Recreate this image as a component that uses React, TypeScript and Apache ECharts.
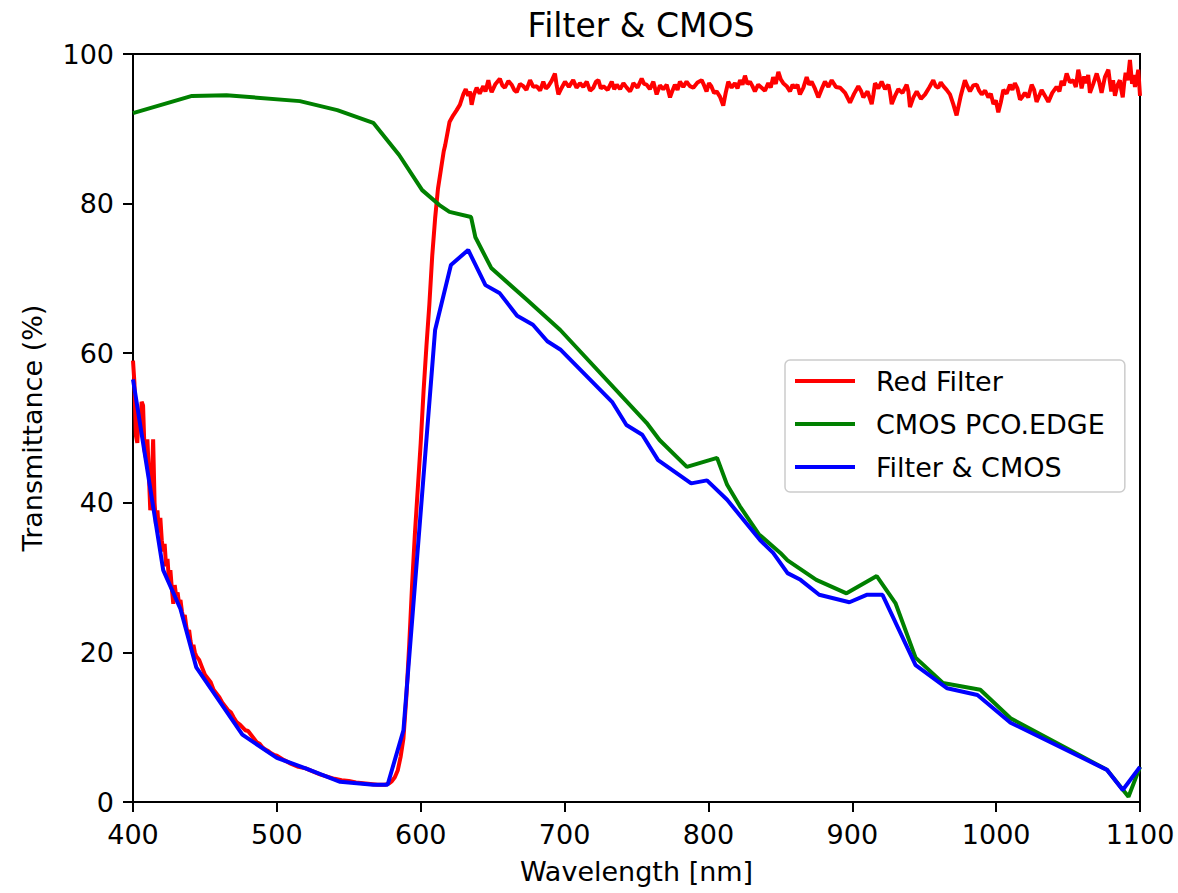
import React, { useEffect, useRef } from "react";
import * as echarts from "echarts";

const FONT = "DejaVu Sans";

const chartTitle = "Filter & CMOS";
const xName = "Wavelength [nm]";
const yName = "Transmittance (%)";
const seriesNames = ["Red Filter", "CMOS PCO.EDGE", "Filter & CMOS"];

// Red filter transmittance [wavelength nm, %]
const redFilter: [number, number][] = [
  [400, 59], [401, 56], [402, 49], [403, 48], [404, 52], [405, 50], [406, 53.5], [407, 53],
  [408, 47], [409, 46], [410, 48.5], [411, 44], [412, 39], [413, 42], [414, 48.5], [415, 40],
  [416, 37], [417, 39], [418, 36], [419, 38], [420, 35], [421, 33.5], [422, 34.5], [423, 31.5],
  [424, 32.5], [425, 29.5], [426, 31], [427, 28.5], [428, 26.5], [429, 29], [430, 27.5], [431, 28],
  [432, 26.5], [433, 27], [434, 25.5], [435, 24.5], [436, 25], [437, 23.5], [438, 22.5], [439, 23],
  [440, 21.5], [441, 20.5], [442, 21], [443, 20], [444, 19.5], [446, 19], [448, 18], [450, 17],
  [452, 16.5], [454, 16], [456, 15], [458, 14.5], [460, 14], [462, 13.3], [464, 12.8], [466, 12.3],
  [468, 12], [470, 11.3], [472, 10.7], [474, 10.4], [476, 10], [478, 9.6], [480, 9.5], [482, 9],
  [484, 8.5], [486, 8], [488, 7.8], [490, 7.3], [492, 7], [494, 6.8], [496, 6.5], [498, 6.3],
  [500, 6.2], [505, 5.6], [510, 5.1], [515, 4.7], [520, 4.5], [525, 4.1], [530, 3.7], [535, 3.4],
  [540, 3.1], [545, 2.9], [550, 2.8], [555, 2.6], [560, 2.5], [565, 2.4], [570, 2.3], [575, 2.3],
  [578, 2.5], [580, 2.8], [582, 3.3], [584, 4.2], [586, 6], [588, 8.5], [590, 14], [592, 21],
  [594, 29], [596, 36], [598, 42], [600, 48], [602, 55], [604, 61], [606, 66.5], [608, 73],
  [610, 78], [612, 82], [614, 84.5], [616, 87], [617, 87.8], [620, 90.9], [622.6, 91.8], [625, 92.5],
  [627.2, 93.2], [629.6, 94.6], [631.3, 95.3], [633, 94.4], [634.2, 95], [635.4, 93.2], [637, 94.6], [638.9, 95.5],
  [641, 94.7], [643.5, 95.7], [645, 95.0], [647, 96.5], [648, 95.6], [649.3, 94.9], [652, 96.0], [655, 96.7],
  [656.8, 95.8], [658.5, 95.5], [661, 96.4], [663.2, 95.9], [665, 95.2], [666.7, 94.9], [669, 96.0], [671.3, 95.7],
  [673.5, 95.2], [676, 96.5], [678.3, 95.6], [680.6, 95.7], [683, 95.1], [685.2, 96.3], [687, 95.4], [688.7, 95.7],
  [691, 96.4], [693.3, 97.4], [694.5, 95.8], [695.7, 94.6], [698, 95.5], [700.3, 96.3], [703, 95.6], [706, 96.5],
  [708.3, 95.5], [710.7, 96.1], [713, 95.6], [715.4, 96.3], [717.7, 95.1], [720, 95.5], [721.8, 96.3], [723.5, 96.5],
  [725.2, 95.4], [727, 95.7], [730, 95.2], [732.8, 96.3], [734.5, 95.3], [736.3, 95.9], [738.6, 95.3], [740.9, 96.1],
  [743.2, 95.5], [745.5, 95.0], [746.6, 95.4], [747.8, 96.1], [750.7, 95.5], [753.6, 96.7], [755.3, 96.0], [757, 95.9],
  [759.3, 95.3], [761.7, 96.3], [762.8, 95.5], [764, 94.6], [766.3, 95.8], [768.6, 95.3], [771, 95.9], [773.3, 94.2],
  [775, 95.1], [776.7, 95.9], [778.5, 95.2], [780.2, 96.3], [782.5, 95.6], [784.8, 96.3], [787.1, 95.7], [789.5, 95.5],
  [792.4, 96.2], [795.3, 96.5], [797, 95.8], [798.7, 95.0], [800.4, 96.1], [802, 95.7], [803.9, 94.8], [805.7, 95.0],
  [808, 94.3], [810.3, 93.1], [812, 94.8], [813.8, 96.3], [816.1, 95.5], [818.4, 96.1], [820.2, 95.4], [822, 96.5],
  [823.7, 95.9], [825.4, 97.1], [827.1, 96.0], [828.9, 96.3], [830.6, 95.7], [832.3, 95.0], [834.6, 95.9], [837, 95.5],
  [839.3, 95.1], [841.6, 96.1], [843.3, 95.5], [845, 96.9], [846.8, 96.0], [848.6, 97.6], [850.3, 96.6], [852, 96.1],
  [854.4, 95.7], [856.7, 95.0], [858.5, 95.9], [860.2, 95.5], [861.9, 95.9], [863.6, 94.6], [866, 95.5], [868.3, 96.9],
  [870, 95.9], [871.7, 96.3], [874, 95.4], [876.4, 94.2], [878.7, 95.3], [881, 96.3], [883.4, 95.6], [885.7, 96.5],
  [888.6, 95.6], [891.5, 95.5], [895, 94.8], [898.4, 93.5], [901.3, 94.7], [904.2, 95.7], [906, 95.1], [907.7, 94.2],
  [910.6, 95.0], [913.5, 93.3], [914.7, 94.6], [915.8, 96.1], [918.1, 95.4], [920.4, 96.3], [922.8, 95.3], [925.1, 95.9],
  [926.2, 94.9], [927.4, 93.3], [929.7, 94.4], [932, 95.3], [934.9, 94.8], [937.8, 95.9], [939, 95.0], [940.1, 92.9],
  [942.5, 94.2], [944.8, 95.0], [947.7, 94.0], [950.6, 94.6], [953.4, 95.5], [956.3, 96.5], [958, 95.7], [959.8, 95.5],
  [961.5, 96.2], [963.3, 95.7], [965.6, 95.2], [967.9, 94.6], [970.2, 93.3], [972.5, 91.8], [975.4, 94.4], [978.3, 96.5],
  [980, 95.7], [981.8, 95.0], [984.1, 95.8], [986.5, 95.9], [988.2, 95.1], [990, 94.6], [992.3, 95.1], [994.6, 94.2],
  [996.3, 94.7], [998.1, 93.3], [999.8, 93.8], [1001.5, 92.2], [1003.2, 93.5], [1005, 95.2], [1007.3, 94.7], [1009.6, 95.9],
  [1011.3, 95.2], [1013, 96.1], [1014.8, 95.4], [1016.6, 93.9], [1018.3, 94.3], [1020, 94.8], [1022.3, 94.2], [1024.7, 95.9],
  [1026.4, 95.2], [1028.1, 93.6], [1029.9, 94.4], [1031.6, 95.2], [1034, 94.4], [1036.3, 93.6], [1039, 94.8], [1042, 95.6],
  [1044, 95.0], [1045.5, 96.4], [1047, 95.8], [1049, 97.4], [1051.3, 96.2], [1053.6, 96.5], [1055.4, 95.6], [1057.1, 97.9],
  [1058.3, 96.8], [1059.4, 95.4], [1061.2, 97.0], [1062.9, 96.1], [1064, 97.2], [1065.2, 94.8], [1067.5, 96.0], [1069.9, 97.4],
  [1071.6, 96.3], [1073.3, 94.8], [1075.6, 96.9], [1078, 97.9], [1079, 96.4], [1080, 95], [1081.3, 96.5], [1082.6, 94.4],
  [1084.3, 95.8], [1086, 96.5], [1087, 95.2], [1088, 94.2], [1089, 96.1], [1090, 97.5], [1091.5, 96.5], [1093, 99.2],
  [1094.5, 96], [1095.5, 97.2], [1096.5, 95.6], [1097.7, 96.6], [1098.8, 97.9], [1099.4, 96.2], [1100, 94.4],
];

// CMOS PCO.EDGE quantum efficiency [wavelength nm, %]
const cmos: [number, number][] = [
  [400, 92.1], [441, 94.4], [465, 94.5], [516, 93.7], [542, 92.5], [567, 90.8], [585, 86.5], [601, 81.8],
  [613, 79.8], [620, 78.9], [635, 78.2], [638, 75.5], [649, 71.4], [674, 67.1], [697, 63.1], [757, 50.7],
  [766, 48.4], [785, 44.8], [806, 46.0], [813, 42.4], [822, 39.5], [835, 35.8], [850, 33.3], [855, 32.3],
  [875, 29.7], [896, 27.9], [917, 30.2], [930, 26.6], [944, 19.3], [963, 15.9], [989, 15.0], [1010, 11.2],
  [1077, 4.3], [1092, 0.7], [1100, 4.7],
];

// Combined filter & CMOS [wavelength nm, %]
const combined: [number, number][] = [
  [400, 56.5], [421, 31.0], [433, 25.8], [444, 18.0], [476, 9.0], [500, 5.9], [520, 4.5], [544, 2.7],
  [567, 2.3], [577, 2.3], [588, 9.6], [610, 63.1], [621, 71.8], [633, 73.8], [645, 69.1], [655, 68.0],
  [667, 65.0], [678, 63.8], [688, 61.6], [697, 60.5], [733, 53.5], [743, 50.4], [754, 49.1], [765, 45.7],
  [788, 42.6], [799, 43.0], [813, 40.4], [836, 35.0], [845, 33.3], [855, 30.6], [864, 29.7], [877, 27.7],
  [898, 26.7], [910, 27.7], [921, 27.7], [944, 18.3], [966, 15.2], [987, 14.3], [1010, 10.6], [1077, 4.3],
  [1088, 1.6], [1100, 4.7],
];

const colors = ["#ff0000", "#008000", "#0000ff"];

export default function App() {
  const ref = useRef<HTMLDivElement>(null);
  useEffect(() => {
    const chart = echarts.init(ref.current!, null, { renderer: "svg" });
    const lineW = 4;
    chart.setOption({
      animation: false,
      backgroundColor: "#ffffff",
      textStyle: { fontFamily: FONT },
      title: {
        text: chartTitle,
        left: 636,
        textAlign: "center",
        top: 4,
        textStyle: { fontFamily: FONT, fontSize: 33, fontWeight: "normal", color: "#000" },
      },
      legend: {
        orient: "vertical",
        left: 785,
        top: 360,
        icon: "rect",
        itemWidth: 60,
        itemHeight: 4,
        itemGap: 13,
        padding: [6, 20, 10, 10],
        backgroundColor: "rgba(255,255,255,0.8)",
        borderColor: "#cccccc",
        borderWidth: 1.5,
        borderRadius: 5,
        textStyle: { fontFamily: FONT, fontSize: 27, color: "#000", padding: [0, 0, 0, 16], lineHeight: 30 },
        data: seriesNames,
      },
      grid: {
        left: 133,
        right: 38,
        top: 54,
        bottom: 91,
        show: true,
        borderColor: "#000",
        borderWidth: 2,
        backgroundColor: "transparent",
      },
      xAxis: {
        type: "value",
        min: 400,
        max: 1100,
        interval: 100,
        name: xName,
        nameLocation: "middle",
        nameGap: 56,
        nameTextStyle: { fontFamily: FONT, fontSize: 27, color: "#000" },
        axisLine: { show: true, lineStyle: { color: "#000", width: 2 } },
        axisTick: { show: true, length: 10, lineStyle: { color: "#000", width: 2 } },
        axisLabel: { fontFamily: FONT, fontSize: 27, color: "#000", margin: 19, formatter: (v: number) => String(v) },
        splitLine: { show: false },
      },
      yAxis: {
        type: "value",
        min: 0,
        max: 100,
        interval: 20,
        name: yName,
        nameLocation: "middle",
        nameGap: 87,
        nameTextStyle: { fontFamily: FONT, fontSize: 27, color: "#000" },
        axisLine: { show: true, lineStyle: { color: "#000", width: 2 } },
        axisTick: { show: true, length: 10, lineStyle: { color: "#000", width: 2 } },
        axisLabel: { fontFamily: FONT, fontSize: 27, color: "#000", margin: 19, formatter: (v: number) => String(v) },
        splitLine: { show: false },
      },
      series: [
        { name: seriesNames[0], type: "line", data: redFilter, symbol: "none", lineStyle: { color: colors[0], width: lineW }, itemStyle: { color: colors[0] }, clip: true },
        { name: seriesNames[1], type: "line", data: cmos, symbol: "none", lineStyle: { color: colors[1], width: lineW }, itemStyle: { color: colors[1] }, clip: true },
        { name: seriesNames[2], type: "line", data: combined, symbol: "none", lineStyle: { color: colors[2], width: lineW }, itemStyle: { color: colors[2] }, clip: true },
      ],
    });
    return () => chart.dispose();
  }, []);
  return <div ref={ref} style={{ position: "absolute", left: 0, top: 0, width: 1178, height: 893 }} />;
}
